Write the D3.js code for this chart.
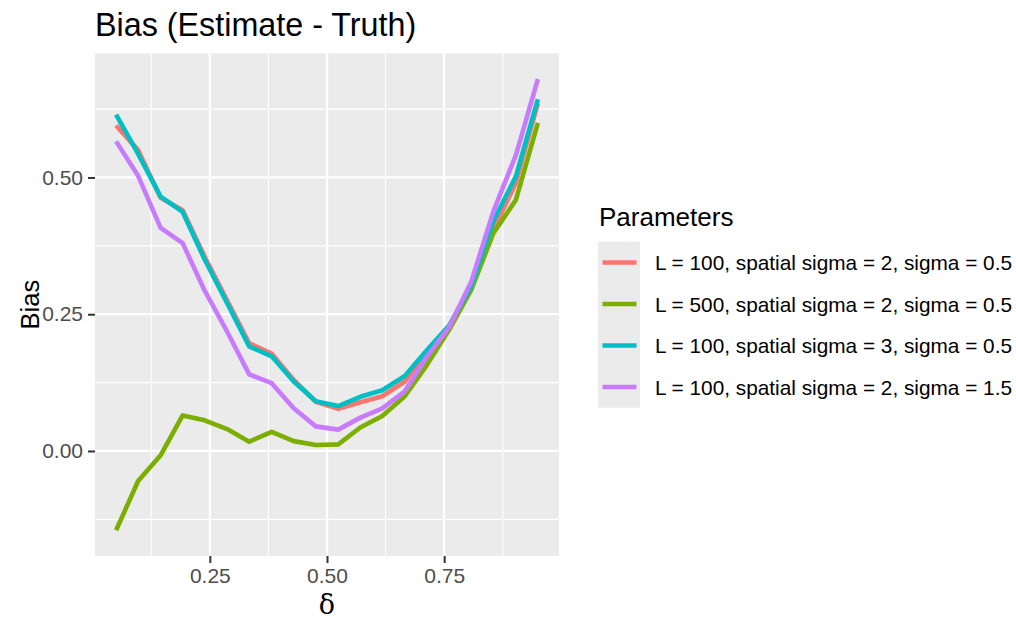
<!DOCTYPE html>
<html>
<head>
<meta charset="utf-8">
<script src="https://cdn.jsdelivr.net/npm/d3@7"></script>
<style>
  html, body { margin: 0; padding: 0; background: #fff; }
  svg text { font-family: "Liberation Sans", Arial, sans-serif; }
</style>
</head>
<body>
<svg id="chart" width="1016" height="621"></svg>
<script>
// delta values (x), one per simulation setting
var delta = [0.050, 0.097, 0.145, 0.192, 0.239, 0.287, 0.334, 0.382, 0.429, 0.476,
             0.524, 0.571, 0.618, 0.666, 0.713, 0.761, 0.808, 0.855, 0.903, 0.950]

// bias per parameter setting
var biasL100s2 = [0.595, 0.550, 0.463, 0.440, 0.355, 0.275, 0.197, 0.178, 0.130, 0.090,
                  0.077, 0.089, 0.100, 0.127, 0.180, 0.228, 0.300, 0.405, 0.490, 0.636]
var biasL500s2 = [-0.145, -0.055, -0.008, 0.065, 0.056, 0.040, 0.017, 0.035, 0.018, 0.011,
                  0.012, 0.043, 0.064, 0.100, 0.157, 0.222, 0.295, 0.398, 0.459, 0.600]
var biasL100s3 = [0.615, 0.543, 0.465, 0.437, 0.350, 0.270, 0.191, 0.173, 0.127, 0.091,
                  0.082, 0.099, 0.111, 0.137, 0.184, 0.230, 0.302, 0.420, 0.502, 0.643]
var biasL100sig15 = [0.566, 0.503, 0.408, 0.380, 0.293, 0.218, 0.140, 0.124, 0.078, 0.045,
                     0.039, 0.061, 0.078, 0.109, 0.172, 0.227, 0.310, 0.438, 0.541, 0.680]

var seriesLabels = [
  "L = 100, spatial sigma = 2, sigma = 0.5",
  "L = 500, spatial sigma = 2, sigma = 0.5",
  "L = 100, spatial sigma = 3, sigma = 0.5",
  "L = 100, spatial sigma = 2, sigma = 1.5"
]
var seriesColors = ["#F8766D", "#7CAE00", "#00BFC4", "#C77CFF"]

var xMajor = [0.25, 0.50, 0.75]
var xMinor = [0.125, 0.375, 0.625, 0.875]
var yMajor = [0.00, 0.25, 0.50]
var yMinor = [-0.125, 0.125, 0.375, 0.625]

var series = [biasL100s2, biasL500s2, biasL100s3, biasL100sig15].map(function(vals, i) {
  return {
    label: seriesLabels[i],
    color: seriesColors[i],
    points: vals.map(function(v, j) { return {x: delta[j], y: v} })
  }
})

// panel geometry
var panel = {left: 95, right: 559, top: 53.3, bottom: 556}

var svg = d3.select("#chart")

var x = d3.scaleLinear().domain([0.005, 0.995]).range([panel.left, panel.right])
var y = d3.scaleLinear().domain([-0.192, 0.727]).range([panel.bottom, panel.top])

// panel background
svg.append("rect")
  .attr("x", panel.left).attr("y", panel.top)
  .attr("width", panel.right - panel.left).attr("height", panel.bottom - panel.top)
  .attr("fill", "#EBEBEB")

var grid = svg.append("g")
grid.selectAll(".xminor").data(xMinor).enter().append("line")
  .attr("x1", d => x(d)).attr("x2", d => x(d))
  .attr("y1", panel.top).attr("y2", panel.bottom)
  .attr("stroke", "#fff").attr("stroke-width", 1.1)
grid.selectAll(".yminor").data(yMinor).enter().append("line")
  .attr("y1", d => y(d)).attr("y2", d => y(d))
  .attr("x1", panel.left).attr("x2", panel.right)
  .attr("stroke", "#fff").attr("stroke-width", 1.1)
grid.selectAll(".xmajor").data(xMajor).enter().append("line")
  .attr("x1", d => x(d)).attr("x2", d => x(d))
  .attr("y1", panel.top).attr("y2", panel.bottom)
  .attr("stroke", "#fff").attr("stroke-width", 2.2)
grid.selectAll(".ymajor").data(yMajor).enter().append("line")
  .attr("y1", d => y(d)).attr("y2", d => y(d))
  .attr("x1", panel.left).attr("x2", panel.right)
  .attr("stroke", "#fff").attr("stroke-width", 2.2)

// lines
var line = d3.line().x(d => x(d.x)).y(d => y(d.y))
svg.append("g").selectAll("path").data(series).enter().append("path")
  .attr("d", d => line(d.points))
  .attr("fill", "none")
  .attr("stroke", d => d.color)
  .attr("stroke-width", 4.6)
  .attr("stroke-linejoin", "round")
  .attr("stroke-linecap", "butt")

// axes
var xAxis = d3.axisBottom(x).tickValues(xMajor).tickFormat(d3.format(".2f")).tickSize(7).tickPadding(5)
var gx = svg.append("g").attr("transform", "translate(0," + panel.bottom + ")").call(xAxis)
gx.select(".domain").remove()
gx.selectAll(".tick line").attr("stroke", "#333333").attr("stroke-width", 2)
gx.selectAll(".tick text").attr("fill", "#4D4D4D").attr("font-size", "21px")
  .attr("font-family", "Liberation Sans, Arial, sans-serif")

var yAxis = d3.axisLeft(y).tickValues(yMajor).tickFormat(d3.format(".2f")).tickSize(7).tickPadding(5)
var gy = svg.append("g").attr("transform", "translate(" + panel.left + ",0)").call(yAxis)
gy.select(".domain").remove()
gy.selectAll(".tick line").attr("stroke", "#333333").attr("stroke-width", 2)
gy.selectAll(".tick text").attr("fill", "#4D4D4D").attr("font-size", "21px")
  .attr("font-family", "Liberation Sans, Arial, sans-serif")

// titles
svg.append("text")
  .attr("x", 95).attr("y", 36)
  .attr("font-size", "32.3px").attr("fill", "#000")
  .text("Bias (Estimate - Truth)")

svg.append("text")
  .attr("x", (panel.left + panel.right) / 2).attr("y", 614)
  .attr("text-anchor", "middle")
  .attr("font-size", "27px")
  .style("font-family", "'DejaVu Serif', 'Liberation Serif', serif")
  .text("\u03B4")

svg.append("text")
  .attr("transform", "translate(39," + ((panel.top + panel.bottom) / 2) + ") rotate(-90)")
  .attr("text-anchor", "middle")
  .attr("font-size", "25.5px")
  .text("Bias")

// legend
var legend = svg.append("g").attr("transform", "translate(598,0)")
legend.append("text")
  .attr("x", 1).attr("y", 225.5)
  .attr("font-size", "26px")
  .text("Parameters")

var keyH = 41.5, keyTop = 241.7
legend.append("rect")
  .attr("x", 0).attr("y", keyTop)
  .attr("width", 42).attr("height", keyH * series.length)
  .attr("fill", "#EBEBEB")

var items = legend.selectAll(".item").data(series).enter().append("g")
  .attr("transform", (d, i) => "translate(0," + (keyTop + keyH * i + keyH / 2) + ")")
items.append("line")
  .attr("x1", 4.5).attr("x2", 38.5)
  .attr("stroke", d => d.color).attr("stroke-width", 4.6)
items.append("text")
  .attr("x", 57).attr("y", 8)
  .attr("font-size", "20.8px")
  .text(d => d.label)
</script>
</body>
</html>
